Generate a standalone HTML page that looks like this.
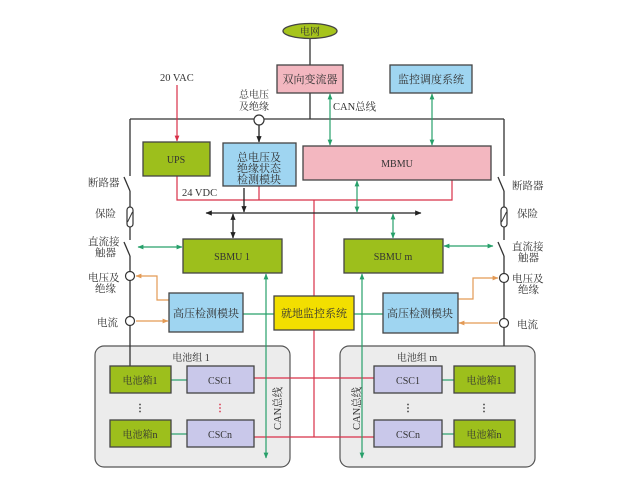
<!DOCTYPE html>
<html><head><meta charset="utf-8"><style>
html,body{margin:0;padding:0;background:#fff;}
svg{display:block;}
text{font-family:"Liberation Serif","Noto Serif CJK SC","Noto Sans CJK SC",serif;fill:#333;}
</style></head><body>
<svg width="638" height="502" viewBox="0 0 638 502" xmlns="http://www.w3.org/2000/svg">
<defs>
<marker id="ab" viewBox="0 0 10 10" refX="9" refY="5" markerWidth="5" markerHeight="5" orient="auto-start-reverse"><path d="M0,1 L10,5 L0,9 z" fill="#222"/></marker>
<marker id="ag" viewBox="0 0 10 10" refX="9" refY="5" markerWidth="5" markerHeight="5" orient="auto-start-reverse"><path d="M0,1 L10,5 L0,9 z" fill="#27a06a"/></marker>
<marker id="ar" viewBox="0 0 10 10" refX="9" refY="5" markerWidth="5" markerHeight="5" orient="auto-start-reverse"><path d="M0,1 L10,5 L0,9 z" fill="#d83048"/></marker>
<marker id="ao" viewBox="0 0 10 10" refX="9" refY="5" markerWidth="5" markerHeight="5" orient="auto-start-reverse"><path d="M0,1 L10,5 L0,9 z" fill="#e39a55"/></marker>
</defs>

<!-- battery groups -->
<rect x="95" y="346" width="195" height="121" rx="9" fill="#ececec" stroke="#555" stroke-width="1.2"/>
<rect x="340" y="346" width="195" height="121" rx="9" fill="#ececec" stroke="#555" stroke-width="1.2"/>

<!-- black main lines -->
<g stroke="#333" stroke-width="1.3" fill="none">
<line x1="310" y1="38" x2="310" y2="65"/>
<line x1="310" y1="93" x2="310" y2="119"/>
<line x1="130" y1="119" x2="504" y2="119"/>
<!-- left -->
<line x1="130" y1="119" x2="130" y2="176"/>
<line x1="124" y1="177" x2="130" y2="191"/>
<line x1="130" y1="191" x2="130" y2="207"/>
<line x1="130" y1="227" x2="130" y2="240"/>
<line x1="124" y1="242" x2="130" y2="256"/>
<line x1="130" y1="256" x2="130" y2="366"/>
<!-- right -->
<line x1="504" y1="119" x2="504" y2="176"/>
<line x1="498" y1="177" x2="504" y2="191"/>
<line x1="504" y1="191" x2="504" y2="207"/>
<line x1="504" y1="227" x2="504" y2="240"/>
<line x1="498" y1="242" x2="504" y2="256"/>
<line x1="504" y1="256" x2="504" y2="346"/>
</g>
<!-- fuses -->
<rect x="127" y="207" width="6" height="20" rx="3" fill="#fff" stroke="#333" stroke-width="1.2"/>
<line x1="127.5" y1="222" x2="132.5" y2="212" stroke="#333" stroke-width="1"/>
<rect x="501" y="207" width="6" height="20" rx="3" fill="#fff" stroke="#333" stroke-width="1.2"/>
<line x1="501.5" y1="222" x2="506.5" y2="212" stroke="#333" stroke-width="1"/>

<!-- red lines -->
<g stroke="#d83048" stroke-width="1.2" fill="none">
<line x1="177" y1="85" x2="177" y2="141" marker-end="url(#ar)"/>
<polyline points="177,176 177,200 452,200 452,180"/>
<line x1="259" y1="185" x2="259" y2="200"/>
<line x1="314" y1="200" x2="314" y2="437"/>
<line x1="254" y1="378" x2="374" y2="378"/>
<line x1="254" y1="437" x2="374" y2="437"/>
</g>

<!-- black bus -->
<g stroke="#222" stroke-width="1.3" fill="none">
<line x1="206" y1="213" x2="421" y2="213" marker-start="url(#ab)" marker-end="url(#ab)"/>
<line x1="244" y1="188" x2="244" y2="212" marker-end="url(#ab)"/>
<line x1="233" y1="214" x2="233" y2="238" marker-start="url(#ab)" marker-end="url(#ab)"/>
<line x1="259" y1="125" x2="259" y2="142" marker-end="url(#ab)"/>
</g>

<!-- green lines -->
<g stroke="#27a06a" stroke-width="1.2" fill="none">
<line x1="330" y1="94" x2="330" y2="145" marker-start="url(#ag)" marker-end="url(#ag)"/>
<line x1="432" y1="94" x2="432" y2="145" marker-start="url(#ag)" marker-end="url(#ag)"/>
<line x1="357" y1="181" x2="357" y2="212" marker-start="url(#ag)" marker-end="url(#ag)"/>
<line x1="393" y1="214" x2="393" y2="238" marker-start="url(#ag)" marker-end="url(#ag)"/>
<line x1="138" y1="247" x2="182" y2="247" marker-start="url(#ag)" marker-end="url(#ag)"/>
<line x1="444" y1="246" x2="493" y2="246" marker-start="url(#ag)" marker-end="url(#ag)"/>
<line x1="266" y1="274" x2="266" y2="458" marker-start="url(#ag)" marker-end="url(#ag)"/>
<line x1="362" y1="274" x2="362" y2="458" marker-start="url(#ag)" marker-end="url(#ag)"/>
<line x1="243" y1="314" x2="383" y2="314"/>
<line x1="171" y1="380" x2="187" y2="380"/>
<line x1="171" y1="434" x2="187" y2="434"/>
<line x1="442" y1="380" x2="454" y2="380"/>
<line x1="442" y1="434" x2="454" y2="434"/>
</g>

<!-- orange lines -->
<g stroke="#e39a55" stroke-width="1.2" fill="none">
<polyline points="169,300 157,300 157,276 136,276" marker-end="url(#ao)"/>
<line x1="136" y1="321" x2="168" y2="321" marker-end="url(#ao)"/>
<polyline points="458,299 473,299 473,278 498,278" marker-end="url(#ao)"/>
<line x1="498" y1="323" x2="459" y2="323" marker-end="url(#ao)"/>
</g>

<!-- circles -->
<g fill="#fff" stroke="#333" stroke-width="1.2">
<circle cx="259" cy="120" r="5"/>
<circle cx="130" cy="276" r="4.5"/>
<circle cx="130" cy="321" r="4.5"/>
<circle cx="504" cy="278" r="4.5"/>
<circle cx="504" cy="323" r="4.5"/>
</g>

<!-- boxes -->
<g stroke="#444" stroke-width="1.3">
<ellipse cx="310" cy="31" rx="27" ry="7.5" fill="#a6c41c"/>
<rect x="277" y="65" width="66" height="28" fill="#f3b7c0"/>
<rect x="390" y="65" width="82" height="28" fill="#9fd5f1"/>
<rect x="143" y="142" width="67" height="34" fill="#9dbf1c"/>
<rect x="223" y="143" width="73" height="43" fill="#9fd5f1"/>
<rect x="303" y="146" width="188" height="34" fill="#f3b7c0"/>
<rect x="183" y="239" width="99" height="34" fill="#9dbf1c"/>
<rect x="344" y="239" width="99" height="34" fill="#9dbf1c"/>
<rect x="169" y="293" width="74" height="39" fill="#9fd5f1"/>
<rect x="383" y="293" width="75" height="40" fill="#9fd5f1"/>
<rect x="274" y="296" width="80" height="34" fill="#f2df00"/>
<rect x="110" y="366" width="61" height="27" fill="#9dbf1c"/>
<rect x="187" y="366" width="67" height="27" fill="#c9c8ea"/>
<rect x="110" y="420" width="61" height="27" fill="#9dbf1c"/>
<rect x="187" y="420" width="67" height="27" fill="#c9c8ea"/>
<rect x="374" y="366" width="68" height="27" fill="#c9c8ea"/>
<rect x="454" y="366" width="61" height="27" fill="#9dbf1c"/>
<rect x="374" y="420" width="68" height="27" fill="#c9c8ea"/>
<rect x="454" y="420" width="61" height="27" fill="#9dbf1c"/>
</g>

<!-- text -->
<g font-size="11" text-anchor="middle">
<text x="310" y="35" font-size="10">电网</text>
<text x="310" y="83">双向变流器</text>
<text x="431" y="83">监控调度系统</text>
<text x="176" y="163" font-size="10">UPS</text>
<text x="259" y="161">总电压及</text>
<text x="259" y="172">绝缘状态</text>
<text x="259" y="183">检测模块</text>
<text x="397" y="167" font-size="10">MBMU</text>
<text x="232" y="260" font-size="10">SBMU 1</text>
<text x="393" y="260" font-size="10">SBMU m</text>
<text x="206" y="317">高压检测模块</text>
<text x="420" y="317">高压检测模块</text>
<text x="314" y="317">就地监控系统</text>
<text x="140" y="384" font-size="10">电池箱1</text>
<text x="220" y="384" font-size="10">CSC1</text>
<text x="140" y="438" font-size="10">电池箱n</text>
<text x="220" y="438" font-size="10">CSCn</text>
<text x="408" y="384" font-size="10">CSC1</text>
<text x="484" y="384" font-size="10">电池箱1</text>
<text x="408" y="438" font-size="10">CSCn</text>
<text x="484" y="438" font-size="10">电池箱n</text>
<text x="191" y="361" font-size="10">电池组 1</text>
<text x="417" y="361" font-size="10">电池组 m</text>
<text x="254" y="98" font-size="10">总电压</text>
<text x="254" y="110" font-size="10">及绝缘</text>
</g>
<g font-size="10" font-weight="bold" fill="#333" text-anchor="middle">
<text x="140" y="411">⋮</text>
<text x="220" y="411" style="fill:#d83048">⋮</text>
<text x="408" y="411">⋮</text>
<text x="484" y="411">⋮</text>
</g>
<g font-size="10.5">
<text x="160" y="81">20 VAC</text>
<text x="333" y="110">CAN总线</text>
<text x="182" y="196">24 VDC</text>
<text x="88" y="186">断路器</text>
<text x="95" y="217">保险</text>
<text x="88" y="245">直流接</text>
<text x="95" y="256">触器</text>
<text x="88" y="281">电压及</text>
<text x="95" y="292">绝缘</text>
<text x="97" y="326">电流</text>
<text x="512" y="189">断路器</text>
<text x="517" y="217">保险</text>
<text x="512" y="250">直流接</text>
<text x="518" y="261">触器</text>
<text x="512" y="282">电压及</text>
<text x="518" y="293">绝缘</text>
<text x="517" y="328">电流</text>
<text transform="translate(281,430) rotate(-90)">CAN总线</text>
<text transform="translate(360,430) rotate(-90)">CAN总线</text>
</g>
</svg>
</body></html>
